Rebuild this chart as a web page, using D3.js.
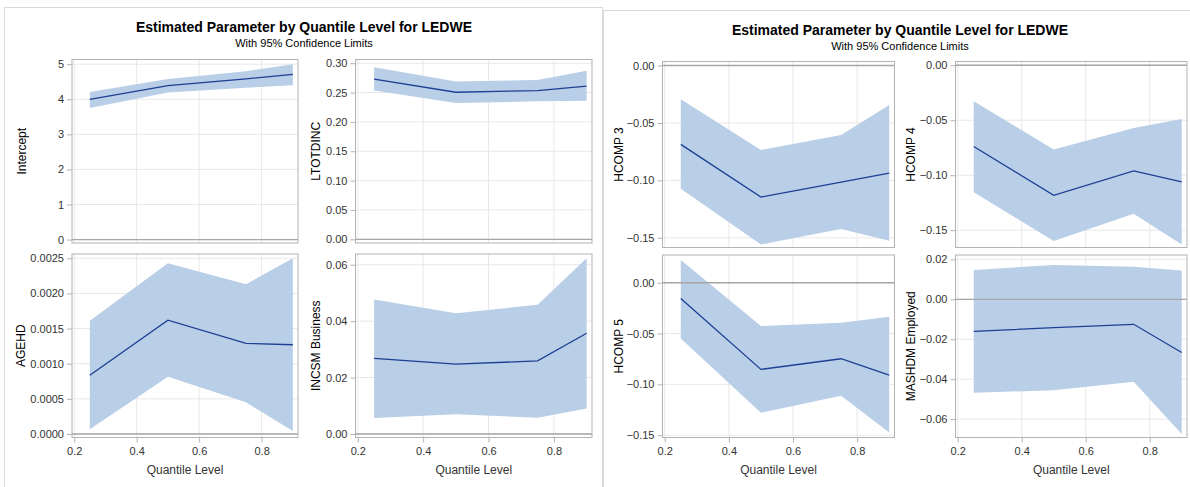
<!DOCTYPE html>
<html>
<head>
<meta charset="utf-8">
<script src="https://cdn.jsdelivr.net/npm/d3@7"></script>
<style>
  body { margin: 0; background: #fff; }
  svg { display: block; font-family: "Liberation Sans", Arial, sans-serif; }
</style>
</head>
<body>
<svg width="1190" height="487"></svg>
<script>
// quantile levels (x values)
var quantiles = [0.25, 0.5, 0.75, 0.9];
var xTicks = [0.2, 0.4, 0.6, 0.8];

// estimates and 95% limits
var interceptEst = [4.00, 4.39, 4.58, 4.71];
var interceptLower = [3.75, 4.19, 4.33, 4.40];
var interceptUpper = [4.21, 4.58, 4.80, 5.00];

var ltotdincEst = [0.273, 0.2505, 0.2534, 0.261];
var ltotdincLower = [0.2534, 0.232, 0.235, 0.236];
var ltotdincUpper = [0.293, 0.269, 0.2715, 0.287];

var agehdEst = [0.000835, 0.00162, 0.00129, 0.00127];
var agehdLower = [0.000067, 0.000816, 0.00045, 0.000043];
var agehdUpper = [0.00161, 0.00243, 0.00213, 0.0025];

var incsmEst = [0.0268, 0.0248, 0.0259, 0.0357];
var incsmLower = [0.0057, 0.0070, 0.0058, 0.0090];
var incsmUpper = [0.0477, 0.0428, 0.0458, 0.0623];

var hcomp3Est = [-0.0686, -0.1145, -0.1014, -0.0936];
var hcomp3Lower = [-0.1073, -0.1558, -0.1424, -0.1526];
var hcomp3Upper = [-0.0293, -0.0735, -0.0604, -0.0343];

var hcomp4Est = [-0.0739, -0.1183, -0.0961, -0.1061];
var hcomp4Lower = [-0.1155, -0.1597, -0.135, -0.163];
var hcomp4Upper = [-0.0328, -0.0766, -0.0571, -0.0489];

var hcomp5Est = [-0.0154, -0.0853, -0.0748, -0.0909];
var hcomp5Lower = [-0.0548, -0.128, -0.1113, -0.1474];
var hcomp5Upper = [0.0224, -0.0426, -0.0394, -0.0335];

var mashdmEst = [-0.0160, -0.0142, -0.0125, -0.0266];
var mashdmLower = [-0.0468, -0.0455, -0.0413, -0.0675];
var mashdmUpper = [0.0147, 0.0172, 0.0163, 0.0145];

var svg = d3.select("svg");

var bandColor = "#b9cee7";
var lineColor = "#1c3f94";
var frameColor = "#b3b3b3";
var gridColor = "#e8e8e8";
var refColor = "#a6a6a6";

// outer panel borders
svg.append("rect").attr("x", 4.5).attr("y", 7.5).attr("width", 598).attr("height", 500)
  .attr("fill", "none").attr("stroke", "#d9d9d9");
svg.append("rect").attr("x", 603.5).attr("y", 10.5).attr("width", 600).attr("height", 500)
  .attr("fill", "none").attr("stroke", "#d9d9d9");

// titles
function titles(cx, ty) {
  svg.append("text").attr("x", cx).attr("y", ty).attr("text-anchor", "middle")
    .attr("font-size", "14px").attr("font-weight", "bold").attr("fill", "#000")
    .text("Estimated Parameter by Quantile Level for LEDWE");
  svg.append("text").attr("x", cx).attr("y", ty + 15).attr("text-anchor", "middle")
    .attr("font-size", "11px").attr("fill", "#000")
    .text("With 95% Confidence Limits");
}
titles(304, 32);
titles(900, 35);

function drawPlot(p) {
  var x = d3.scaleLinear().domain([0.193, 0.9165]).range([p.x0, p.x1]);
  var y = d3.scaleLinear().domain(p.yDomain).range([p.y1, p.y0]);
  var g = svg.append("g");

  // gridlines
  g.selectAll(".gx").data(xTicks).enter().append("line")
    .attr("x1", d => x(d)).attr("x2", d => x(d))
    .attr("y1", p.y0).attr("y2", p.y1)
    .attr("stroke", gridColor);
  g.selectAll(".gy").data(p.yTicks).enter().append("line")
    .attr("x1", p.x0).attr("x2", p.x1)
    .attr("y1", d => y(d)).attr("y2", d => y(d))
    .attr("stroke", gridColor);

  var rows = quantiles.map((q, i) => ({ q: q, est: p.est[i], lo: p.lo[i], hi: p.hi[i] }));

  // confidence band
  var area = d3.area().x(d => x(d.q)).y0(d => y(d.lo)).y1(d => y(d.hi));
  g.append("path").datum(rows).attr("d", area).attr("fill", bandColor);

  // reference line at zero
  g.append("line").attr("x1", p.x0).attr("x2", p.x1)
    .attr("y1", y(0)).attr("y2", y(0))
    .attr("stroke", refColor).attr("stroke-width", 1.3);

  // estimate line
  var line = d3.line().x(d => x(d.q)).y(d => y(d.est));
  g.append("path").datum(rows).attr("d", line)
    .attr("fill", "none").attr("stroke", lineColor).attr("stroke-width", 1.3);

  // frame
  g.append("rect").attr("x", p.x0).attr("y", p.y0)
    .attr("width", p.x1 - p.x0).attr("height", p.y1 - p.y0)
    .attr("fill", "none").attr("stroke", frameColor);

  // y axis
  var yAxis = g.append("g").attr("transform", "translate(" + p.x0 + ",0)")
    .call(d3.axisLeft(y).tickValues(p.yTicks).tickFormat(d3.format(p.fmt)).tickSize(5).tickPadding(3));
  yAxis.select(".domain").remove();
  yAxis.selectAll("line").attr("stroke", frameColor);
  yAxis.selectAll("text").attr("font-size", "11px").attr("fill", "#333")
    .attr("font-family", "Liberation Sans, Arial, sans-serif");

  g.append("text")
    .attr("transform", "translate(" + p.labelX + "," + ((p.y0 + p.y1) / 2) + ") rotate(-90)")
    .attr("text-anchor", "middle").attr("dy", "0.35em")
    .attr("font-size", "12px").attr("fill", "#000")
    .text(p.label);

  if (p.showX) {
    var xAxis = g.append("g").attr("transform", "translate(0," + p.y1 + ")")
      .call(d3.axisBottom(x).tickValues(xTicks).tickFormat(d3.format(".1f")).tickSize(5).tickPadding(5));
    xAxis.select(".domain").remove();
    xAxis.selectAll("line").attr("stroke", frameColor);
    xAxis.selectAll("text").attr("font-size", "11px").attr("fill", "#333")
      .attr("font-family", "Liberation Sans, Arial, sans-serif");
    g.append("text").attr("x", (p.x0 + p.x1) / 2).attr("y", 473.5)
      .attr("text-anchor", "middle").attr("font-size", "12px").attr("fill", "#333")
      .text("Quantile Level");
  }
}

var plots = [
  { label: "Intercept", est: interceptEst, lo: interceptLower, hi: interceptUpper,
    x0: 72, x1: 298, y0: 59.5, y1: 243, labelX: 22,
    yDomain: [-0.097, 5.134], yTicks: [0, 1, 2, 3, 4, 5], fmt: "d", showX: false },
  { label: "LTOTDINC", est: ltotdincEst, lo: ltotdincLower, hi: ltotdincUpper,
    x0: 355.5, x1: 592, y0: 59.5, y1: 243, labelX: 316,
    yDomain: [-0.0063, 0.3063], yTicks: [0, 0.05, 0.1, 0.15, 0.2, 0.25, 0.3], fmt: ".2f", showX: false },
  { label: "AGEHD", est: agehdEst, lo: agehdLower, hi: agehdUpper,
    x0: 72, x1: 298, y0: 254, y1: 437.5, labelX: 21,
    yDomain: [-0.00005, 0.002561], yTicks: [0, 0.0005, 0.001, 0.0015, 0.002, 0.0025], fmt: ".4f", showX: true },
  { label: "INCSM Business", est: incsmEst, lo: incsmLower, hi: incsmUpper,
    x0: 355.5, x1: 592, y0: 254, y1: 437.5, labelX: 316,
    yDomain: [-0.00124, 0.0638], yTicks: [0, 0.02, 0.04, 0.06], fmt: ".2f", showX: true },
  { label: "HCOMP 3", est: hcomp3Est, lo: hcomp3Lower, hi: hcomp3Upper,
    x0: 662.5, x1: 894.5, y0: 61.5, y1: 247.5, labelX: 618.5,
    yDomain: [-0.1584, 0.0035], yTicks: [0, -0.05, -0.1, -0.15], fmt: ".2f", showX: false },
  { label: "HCOMP 4", est: hcomp4Est, lo: hcomp4Lower, hi: hcomp4Upper,
    x0: 955.5, x1: 1187, y0: 61.5, y1: 247.5, labelX: 911,
    yDomain: [-0.1657, 0.0034], yTicks: [0, -0.05, -0.1, -0.15], fmt: ".2f", showX: false },
  { label: "HCOMP 5", est: hcomp5Est, lo: hcomp5Lower, hi: hcomp5Upper,
    x0: 662.5, x1: 894.5, y0: 255, y1: 437.5, labelX: 618.5,
    yDomain: [-0.1523, 0.0273], yTicks: [0, -0.05, -0.1, -0.15], fmt: ".2f", showX: true },
  { label: "MASHDM Employed", est: mashdmEst, lo: mashdmLower, hi: mashdmUpper,
    x0: 955.5, x1: 1187, y0: 255, y1: 437.5, labelX: 911,
    yDomain: [-0.0692, 0.0222], yTicks: [0.02, 0, -0.02, -0.04, -0.06], fmt: ".2f", showX: true }
];

plots.forEach(drawPlot);
</script>
</body>
</html>
